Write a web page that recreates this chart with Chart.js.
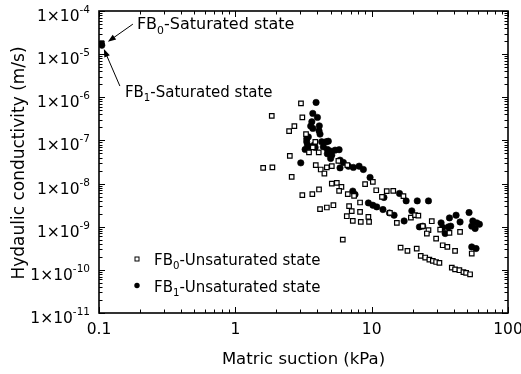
<!DOCTYPE html>
<html>
<head>
<meta charset="utf-8">
<script src="https://cdn.jsdelivr.net/npm/chart.js@4.4.0/dist/chart.umd.min.js"></script>
<style>
  html, body { margin: 0; padding: 0; background: #fff; }
</style>
</head>
<body>
<canvas id="chart" width="521" height="374"></canvas>
<script>
// --- data (suction in kPa, conductivity in m/s) ---
const FB0_SUCTION = [
  1.60, 1.87, 1.85, 3.03, 3.10, 2.48, 2.71, 2.51, 2.59, 3.30,
  3.86, 3.47, 4.09, 3.70, 3.89, 4.23, 4.50, 4.69, 5.10, 5.70,
  6.63, 5.10, 5.55, 6.00, 5.77, 6.68, 3.10, 3.67, 4.11, 4.18,
  4.69, 5.24, 6.14, 6.83, 7.14, 6.57, 7.27, 8.32, 9.57, 8.22,
  8.22, 9.46, 7.43, 8.95, 10.2, 10.8, 12.9, 14.4, 17.1, 11.9,
  13.6, 15.3, 19.4, 20.8, 22.0, 27.6, 23.7, 26.1, 25.4, 31.8,
  29.7, 37.2, 44.5, 16.3, 18.3, 21.4, 22.9, 24.7, 26.5, 28.1,
  29.7, 31.4, 33.2, 35.9, 40.9, 38.7, 40.9, 44.0, 47.1, 49.3,
  52.7, 54.2
];
const FB0_K = [
  2.31e-8, 2.37e-8, 3.72e-7, 7.22e-7, 3.42e-7, 1.64e-7, 2.15e-7, 4.4e-8, 1.43e-8, 1.40e-7,
  9.3e-8, 5.27e-8, 5.27e-8, 6.89e-8, 2.67e-8, 2.12e-8, 1.71e-8, 2.37e-8, 2.53e-8, 3.36e-8,
  2.67e-8, 1.0e-8, 1.04e-8, 8.4e-9, 6.8e-9, 5.7e-9, 5.4e-9, 5.7e-9, 7.3e-9, 2.55e-9,
  2.79e-9, 3.15e-9, 5.0e-10, 2.99e-9, 2.29e-9, 1.75e-9, 1.36e-9, 1.29e-9, 1.30e-9, 3.64e-9,
  2.2e-9, 1.69e-9, 5.2e-9, 9.7e-9, 1.09e-8, 7.0e-9, 6.7e-9, 6.8e-9, 5.1e-9, 4.9e-9,
  2.09e-9, 1.23e-9, 1.63e-9, 1.85e-9, 1.80e-9, 1.34e-9, 1.03e-9, 8.3e-10, 6.95e-10, 8.6e-10,
  5.3e-10, 7.2e-10, 7.6e-10, 3.29e-10, 2.75e-10, 3.12e-10, 2.10e-10, 1.93e-10, 1.73e-10, 1.61e-10,
  1.52e-10, 1.45e-10, 3.72e-10, 3.4e-10, 2.75e-10, 1.13e-10, 1.03e-10, 9.8e-11, 8.9e-11, 8.5e-11,
  7.9e-11, 2.39e-10
];
const FB1_SUCTION = [
  3.91, 3.70, 4.00, 3.64, 3.57, 3.70, 4.13, 4.11, 4.18, 3.43,
  3.34, 3.38, 3.25, 3.53, 3.78, 4.30, 4.63, 4.81, 4.42, 4.73,
  4.95, 5.10, 5.00, 5.39, 5.77, 3.02, 6.20, 6.75, 7.34, 8.09,
  8.69, 5.86, 9.73, 7.27, 7.55, 9.46, 10.2, 10.9, 12.1, 13.5,
  14.6, 12.3, 16.0, 17.9, 19.7, 21.6, 26.1, 17.3, 22.4, 23.7,
  32.3, 33.2, 34.6, 37.2, 41.6, 36.5, 38.0, 44.5, 51.8, 55.2,
  59.0, 54.2, 57.4, 61.7, 54.2, 58.3, 5.86, 3.34, 3.85, 4.73
];
const FB1_K = [
  7.6e-7, 4.23e-7, 3.42e-7, 2.7e-7, 2.15e-7, 1.90e-7, 2.18e-7, 1.67e-7, 1.40e-7, 1.21e-7,
  9.3e-8, 7.8e-8, 6.2e-8, 7.1e-8, 7.8e-8, 9.3e-8, 9.3e-8, 9.6e-8, 7.1e-8, 6.2e-8,
  5.7e-8, 4.56e-8, 3.82e-8, 5.96e-8, 6.1e-8, 3.02e-8, 3.09e-8, 2.53e-8, 2.37e-8, 2.53e-8,
  2.12e-8, 2.31e-8, 1.39e-8, 6.7e-9, 5.6e-9, 3.56e-9, 3.15e-9, 2.88e-9, 2.5e-9, 2.09e-9,
  1.85e-9, 4.76e-9, 5.9e-9, 3.97e-9, 2.33e-9, 3.97e-9, 3.97e-9, 1.36e-9, 9.9e-10, 1.03e-9,
  1.23e-9, 9.6e-10, 6.95e-10, 1.6e-9, 1.85e-9, 9.9e-10, 1.03e-9, 1.29e-9, 2.13e-9, 1.36e-9,
  1.23e-9, 1.03e-9, 9.1e-10, 1.14e-9, 3.4e-10, 3.12e-10, 3.49e-8, 1.1e-7, 6.9e-8, 4.9e-8
];
// saturated state points
const FB0_SAT_SUCTION = [0.105];
const FB0_SAT_K = [1.8e-5];
const FB1_SAT_SUCTION = [0.105];
const FB1_SAT_K = [1.6e-5];

const X_TICKS = [0.1, 1, 10, 100];
const X_TICK_LABELS = ['0.1', '1', '10', '100'];
const Y_TICKS = [1e-4, 1e-5, 1e-6, 1e-7, 1e-8, 1e-9, 1e-10, 1e-11];
const Y_TICK_EXP = ['-4', '-5', '-6', '-7', '-8', '-9', '-10', '-11'];

const X_TITLE = 'Matric suction (kPa)';
const Y_TITLE = 'Hydaulic conductivity (m/s)';
const LEGEND = [
  { name: ['FB', '0', '-Unsaturated state'], marker: 'rect' },
  { name: ['FB', '1', '-Unsaturated state'], marker: 'circle' }
];
const NOTE_FB0 = ['FB', '0', '-Saturated state'];
const NOTE_FB1 = ['FB', '1', '-Saturated state'];

const FONT = '"DejaVu Sans", "Liberation Sans", Arial, sans-serif';

function toPoints(xs, ys) {
  return xs.map((v, i) => ({ x: v, y: ys[i] }));
}

// texto com sub/sobrescrito: parts = [[texto, 'sub'|'sup'|null], ...]
function drawParts(ctx, parts, x, y, size, align) {
  const main = size + 'px ' + FONT;
  const small = (size * 0.68).toFixed(1) + 'px ' + FONT;
  ctx.textAlign = 'left';
  ctx.textBaseline = 'alphabetic';
  let w = 0;
  parts.forEach(p => { ctx.font = p[1] ? small : main; w += ctx.measureText(p[0]).width; });
  let cx = align === 'right' ? x - w : (align === 'center' ? x - w / 2 : x);
  parts.forEach(p => {
    ctx.font = p[1] ? small : main;
    const dy = p[1] === 'sub' ? size * 0.28 : (p[1] === 'sup' ? -size * 0.52 : 0);
    ctx.fillText(p[0], cx, y + dy);
    cx += ctx.measureText(p[0]).width;
  });
}

function withSub(name) {
  return [[name[0], null], [name[1], 'sub'], [name[2], null]];
}

function arrow(ctx, x1, y1, x2, y2) {
  // de (x1,y1) até a ponta (x2,y2)
  const ang = Math.atan2(y2 - y1, x2 - x1);
  const len = 8, half = 3;
  ctx.beginPath();
  ctx.moveTo(x1, y1);
  ctx.lineTo(x2 - Math.cos(ang) * len * 0.8, y2 - Math.sin(ang) * len * 0.8);
  ctx.stroke();
  ctx.beginPath();
  ctx.moveTo(x2, y2);
  ctx.lineTo(x2 - Math.cos(ang) * len - Math.sin(ang) * half, y2 - Math.sin(ang) * len + Math.cos(ang) * half);
  ctx.lineTo(x2 - Math.cos(ang) * len + Math.sin(ang) * half, y2 - Math.sin(ang) * len - Math.cos(ang) * half);
  ctx.closePath();
  ctx.fill();
}

// --- frame, inward ticks, labels, legend and notes ---
const framePlugin = {
  id: 'frame',
  afterDraw(chart) {
    const { ctx, chartArea: a, scales: { x, y } } = chart;
    ctx.save();
    ctx.strokeStyle = '#000';
    ctx.fillStyle = '#000';

    // ticks pointing inward on all four sides
    ctx.lineWidth = 1;
    const major = 6, minor = 3.5;
    ctx.beginPath();
    for (let d = -1; d <= 2; d++) {
      for (let k = 1; k <= 9; k++) {
        const v = k * Math.pow(10, d);
        if (v < 0.1 || v > 100) continue;
        const px = Math.round(x.getPixelForValue(v)) + 0.5;
        const len = k === 1 ? major : minor;
        ctx.moveTo(px, a.bottom); ctx.lineTo(px, a.bottom - len);
        ctx.moveTo(px, a.top); ctx.lineTo(px, a.top + len);
      }
    }
    for (let d = -11; d <= -4; d++) {
      for (let k = 1; k <= 9; k++) {
        const v = k * Math.pow(10, d);
        if (v > 1.0001e-4) continue;
        const py = Math.round(y.getPixelForValue(v)) + 0.5;
        const len = k === 1 ? major : minor;
        ctx.moveTo(a.left, py); ctx.lineTo(a.left + len, py);
        ctx.moveTo(a.right, py); ctx.lineTo(a.right - len, py);
      }
    }
    ctx.stroke();

    // frame
    ctx.lineWidth = 1.6;
    ctx.strokeRect(a.left, a.top, a.right - a.left, a.bottom - a.top);

    // x tick labels
    ctx.font = '15.5px ' + FONT;
    ctx.textAlign = 'center';
    ctx.textBaseline = 'alphabetic';
    X_TICKS.forEach((v, i) => {
      ctx.fillText(X_TICK_LABELS[i], x.getPixelForValue(v), a.bottom + 21);
    });

    // y tick labels 1x10^n
    Y_TICKS.forEach((v, i) => {
      const py = y.getPixelForValue(v);
      drawParts(ctx, [['1\u00d710', null], [Y_TICK_EXP[i], 'sup']], a.left - 9, py + 10, 15.5, 'right');
    });

    // axis titles
    ctx.font = '16.5px ' + FONT;
    ctx.textAlign = 'center';
    ctx.fillText(X_TITLE, (a.left + a.right) / 2, a.bottom + 51);
    ctx.save();
    ctx.font = '17px ' + FONT;
    ctx.translate(24, (a.top + a.bottom) / 2 + 1);
    ctx.rotate(-Math.PI / 2);
    ctx.fillText(Y_TITLE, 0, 0);
    ctx.restore();

    // legend (inside, bottom left)
    const lx = a.left + 38;
    LEGEND.forEach((item, i) => {
      const ly = a.bottom - 54 + i * 26.5;
      if (item.marker === 'rect') {
        ctx.lineWidth = 1;
        ctx.strokeRect(lx - 2, ly - 2, 4, 4);
      } else {
        ctx.beginPath();
        ctx.arc(lx, ly, 2.7, 0, Math.PI * 2);
        ctx.fill();
      }
      drawParts(ctx, withSub(item.name), lx + 17, ly + 6, 15, 'left');
    });

    // notes with arrows for the saturated points
    ctx.lineWidth = 1;
    const p0x = x.getPixelForValue(FB0_SAT_SUCTION[0]);
    const p0y = y.getPixelForValue(FB0_SAT_K[0]);
    arrow(ctx, p0x + 31, p0y - 19, p0x + 6, p0y - 1.4);
    drawParts(ctx, withSub(NOTE_FB0), p0x + 35, p0y - 14, 16, 'left');

    const p1x = x.getPixelForValue(FB1_SAT_SUCTION[0]);
    const p1y = y.getPixelForValue(FB1_SAT_K[0]);
    arrow(ctx, p1x + 18, p1y + 40.7, p1x + 2, p1y + 3.7);
    drawParts(ctx, withSub(NOTE_FB1), p1x + 23, p1y + 51.4, 15, 'left');

    ctx.restore();
  }
};

new Chart(document.getElementById('chart'), {
  type: 'scatter',
  data: {
    datasets: [
      {
        label: 'FB0-Unsaturated state',
        data: toPoints(FB0_SUCTION, FB0_K),
        pointStyle: 'rect',
        pointRadius: 3.2,
        backgroundColor: '#fff',
        borderColor: '#000',
        borderWidth: 1.2
      },
      {
        label: 'FB1-Unsaturated state',
        data: toPoints(FB1_SUCTION, FB1_K),
        pointStyle: 'circle',
        pointRadius: 3.2,
        backgroundColor: '#000',
        borderColor: '#000',
        borderWidth: 0.6
      },
      {
        label: 'FB0-Saturated state',
        data: toPoints(FB0_SAT_SUCTION, FB0_SAT_K),
        pointStyle: 'rect',
        pointRadius: 3.2,
        backgroundColor: '#000',
        borderColor: '#000',
        borderWidth: 1
      },
      {
        label: 'FB1-Saturated state',
        data: toPoints(FB1_SAT_SUCTION, FB1_SAT_K),
        pointStyle: 'circle',
        pointRadius: 3.1,
        backgroundColor: '#000',
        borderColor: '#000',
        borderWidth: 0.6
      }
    ]
  },
  options: {
    responsive: false,
    animation: false,
    devicePixelRatio: 1,
    layout: { padding: { left: 99, right: 13, top: 11, bottom: 61 } },
    plugins: { legend: { display: false }, tooltip: { enabled: false } },
    scales: {
      x: { type: 'logarithmic', min: 0.1, max: 100, display: false },
      y: { type: 'logarithmic', min: 1e-11, max: 1e-4, display: false }
    }
  },
  plugins: [framePlugin]
});
</script>
</body>
</html>
